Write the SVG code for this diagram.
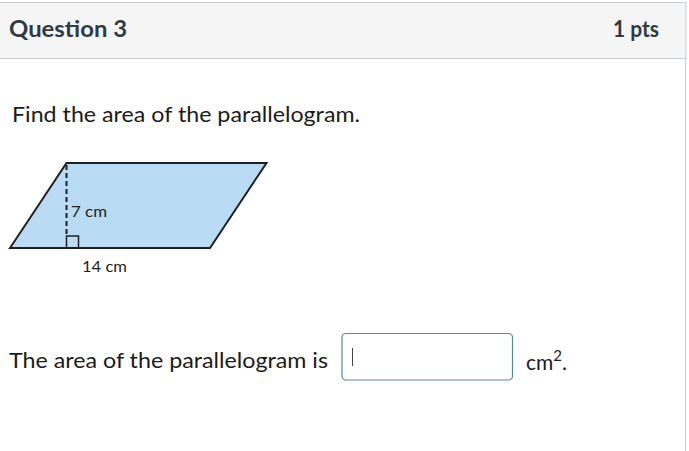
<svg xmlns="http://www.w3.org/2000/svg" width="689" height="451" viewBox="0 0 689 451">
<style>
text{font-family:Lato,"Noto Sans",sans-serif;fill:#2d3b45}
.hd{font-size:22px;font-weight:700}
.body{font-size:21px;fill:#1b1b1b}
.lbl{font-size:15px;fill:#222}
</style>
<rect x="0" y="0" width="689" height="451" fill="#fff"/>
<g id="header">
<rect x="-1" y="2.5" width="687" height="56" fill="#f5f5f5" stroke="#c7cdd1" stroke-width="1"/>
<text class="hd" x="9" y="37" textLength="118" lengthAdjust="spacingAndGlyphs">Question 3</text>
<text class="hd" x="613" y="37" textLength="46" lengthAdjust="spacingAndGlyphs">1 pts</text>
</g>
<line x1="685.5" y1="58" x2="685.5" y2="451" stroke="#c7cdd1"/>
<text class="body" x="12" y="122" textLength="348" lengthAdjust="spacingAndGlyphs">Find the area of the parallelogram.</text>
<g id="figure">
<polygon points="10,248 66.5,163 266.5,163 210,248" fill="#b9dbf3" stroke="#231f20" stroke-width="2" stroke-linejoin="miter"/>
<line x1="66.5" y1="165" x2="66.5" y2="236" stroke="#231f20" stroke-width="2" stroke-dasharray="5,3"/>
<rect x="66.5" y="236" width="12" height="12" fill="none" stroke="#231f20" stroke-width="1.5"/>
<text class="lbl" x="71" y="217" textLength="36" lengthAdjust="spacingAndGlyphs">7 cm</text>
<text class="lbl" x="82" y="272" textLength="45" lengthAdjust="spacingAndGlyphs">14 cm</text>
</g>
<text class="body" x="9" y="368" textLength="319" lengthAdjust="spacingAndGlyphs">The area of the parallelogram is</text>
<g id="input">
<rect x="342" y="333.5" width="170.5" height="46.5" rx="4" fill="#fff" stroke="#4f8aa3" stroke-width="1.2"/>
<line x1="352.5" y1="348" x2="352.5" y2="366" stroke="#444" stroke-width="1"/>
</g>
<text class="body" x="526" y="370">cm<tspan font-size="15" dy="-9">2</tspan><tspan dy="9">.</tspan></text>
</svg>
